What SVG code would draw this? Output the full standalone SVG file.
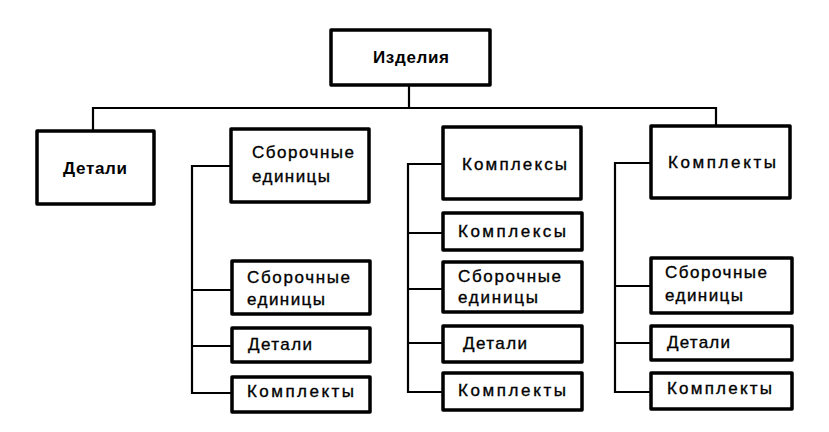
<svg xmlns="http://www.w3.org/2000/svg" width="829" height="432" viewBox="0 0 829 432">
<style>
.box{fill:#fff;stroke:#000;stroke-width:3.5;stroke-linejoin:round}
.c{fill:none;stroke:#000;stroke-width:2.2;stroke-linecap:square}
text{font-family:"Liberation Sans",Arial,sans-serif;font-size:17px;fill:#000;stroke:#000;stroke-width:0.35}
.b{font-weight:bold;stroke-width:0}
</style>
<rect width="829" height="432" fill="#fff"/>
<g id="connectors">
<path class="c" d="M409,86 V108 M93,108 H716 M93,108 V131 M716,108 V126"/>
<path class="c" d="M231,166 H192 V393 H232 M192,290 H232 M192,346 H232"/>
<path class="c" d="M443,164 H408 V392 H443 M408,233 H443 M408,289 H443 M408,343 H443"/>
<path class="c" d="M651,163 H615 V392 H651 M615,286 H651 M615,343 H651"/>
</g>
<g id="n-izdeliya"><rect class="box" x="331" y="30" width="159" height="55"/><text class="b" x="373" y="63" textLength="76" lengthAdjust="spacing">Изделия</text></g>
<g id="n-detali"><rect class="box" x="37" y="131" width="117" height="73"/><text class="b" x="63" y="174" textLength="64" lengthAdjust="spacing">Детали</text></g>
<g id="n-sborochnye"><rect class="box" x="231" y="129" width="138" height="73"/><text x="252" y="158" textLength="102" lengthAdjust="spacing">Сборочные</text><text x="252" y="182" textLength="78" lengthAdjust="spacing">единицы</text></g>
<g id="n-kompleksy"><rect class="box" x="443" y="127" width="138" height="72"/><text x="462" y="170" textLength="105" lengthAdjust="spacing">Комплексы</text></g>
<g id="n-komplekty"><rect class="box" x="651" y="126" width="139" height="72"/><text x="668" y="168" textLength="108" lengthAdjust="spacing">Комплекты</text></g>
<g id="n-c2-sb"><rect class="box" x="232" y="261" width="138" height="53"/><text x="247" y="283" textLength="103" lengthAdjust="spacing">Сборочные</text><text x="247" y="305" textLength="78" lengthAdjust="spacing">единицы</text></g>
<g id="n-c2-det"><rect class="box" x="232" y="328" width="138" height="34"/><text x="248" y="350" textLength="64" lengthAdjust="spacing">Детали</text></g>
<g id="n-c2-kt"><rect class="box" x="232" y="377" width="138" height="35"/><text x="247" y="397" textLength="107" lengthAdjust="spacing">Комплекты</text></g>
<g id="n-c3-ks"><rect class="box" x="443" y="213" width="139" height="37"/><text x="458" y="237" textLength="108" lengthAdjust="spacing">Комплексы</text></g>
<g id="n-c3-sb"><rect class="box" x="443" y="262" width="139" height="50"/><text x="458" y="282" textLength="103" lengthAdjust="spacing">Сборочные</text><text x="458" y="303" textLength="80" lengthAdjust="spacing">единицы</text></g>
<g id="n-c3-det"><rect class="box" x="443" y="326" width="139" height="36"/><text x="463" y="349" textLength="64" lengthAdjust="spacing">Детали</text></g>
<g id="n-c3-kt"><rect class="box" x="443" y="373" width="139" height="37"/><text x="458" y="396" textLength="108" lengthAdjust="spacing">Комплекты</text></g>
<g id="n-c4-sb"><rect class="box" x="651" y="258" width="141" height="55"/><text x="665" y="278" textLength="102" lengthAdjust="spacing">Сборочные</text><text x="665" y="301" textLength="78" lengthAdjust="spacing">единицы</text></g>
<g id="n-c4-det"><rect class="box" x="651" y="326" width="141" height="34"/><text x="667" y="348" textLength="63" lengthAdjust="spacing">Детали</text></g>
<g id="n-c4-kt"><rect class="box" x="651" y="373" width="141" height="36"/><text x="667" y="394" textLength="105" lengthAdjust="spacing">Комплекты</text></g>
</svg>
